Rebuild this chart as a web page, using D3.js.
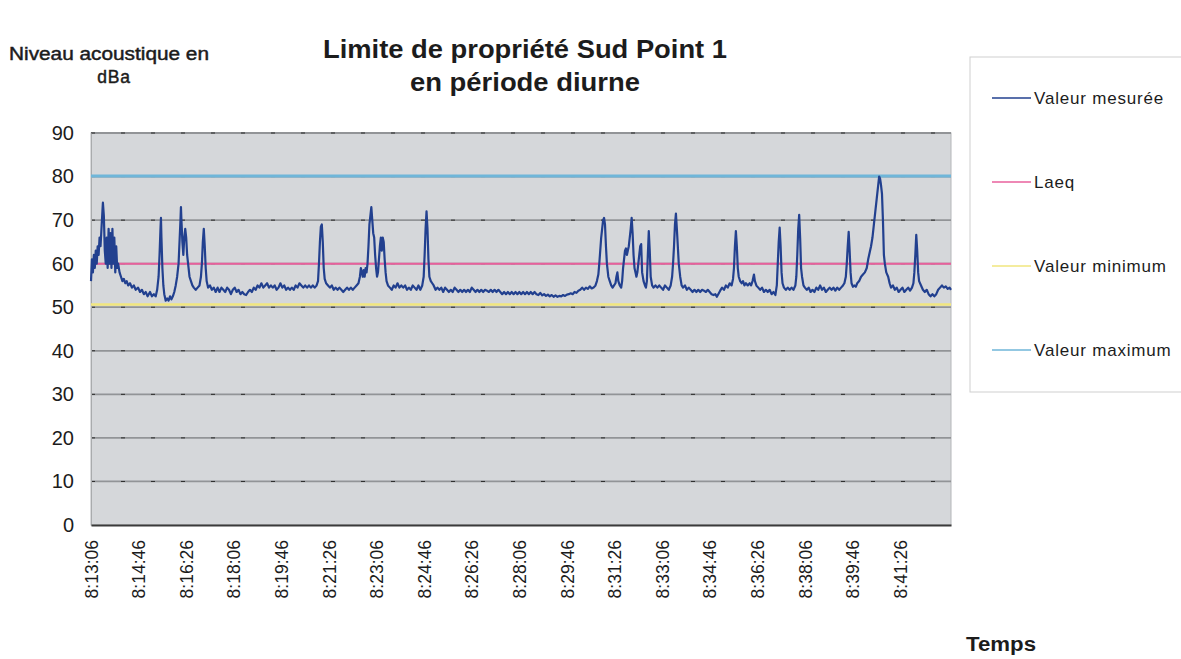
<!DOCTYPE html>
<html>
<head>
<meta charset="utf-8">
<script src="https://cdn.jsdelivr.net/npm/d3@7/dist/d3.min.js"></script>
<style>
  body { margin: 0; background: #fff; }
  text { font-family: "Liberation Sans", Arial, sans-serif; fill: #1c1c1c; }
</style>
</head>
<body>
<div id="chart"></div>
<script>
// x axis labels, one every 100 s starting at 8:13:06
var tickLabels = ["8:13:06", "8:14:46", "8:16:26", "8:18:06", "8:19:46", "8:21:26",
                  "8:23:06", "8:24:46", "8:26:26", "8:28:06", "8:29:46", "8:31:26",
                  "8:33:06", "8:34:46", "8:36:26", "8:38:06", "8:39:46", "8:41:26"];
var tickSeconds = [0, 100, 200, 300, 400, 500, 600, 700, 800, 900, 1000, 1100,
                   1200, 1300, 1400, 1500, 1600, 1700];
var lastSecond = 1807;

var yTicks = [0, 10, 20, 30, 40, 50, 60, 70, 80, 90];

// reference levels (dBa)
var laeq = 60;
var valeurMin = 50.6;
var valeurMax = 80.1;

var legendNames = ["Valeur mesurée", "Laeq", "Valeur minimum", "Valeur maximum"];
var legendColors = ["#22408f", "#e8609c", "#f1e67e", "#6fb6d9"];

var mesure = [
  [0,56],[2,61],[4,58],[6,62],[8,59],[10,63],[12,60],[14,64],[16,62],[18,66],[20,64],[22,68],
  [24,72],[25,74],[27,71],[29,63],[31,60],[33,66],[35,59],[37,68],[39,60],[41,67],[43,59],
  [45,68],[47,60],[49,66],[51,58],[53,64],[55,59],[57,60],[60,58],[63,57],[66,56],[69,56.5],
  [72,55.5],[75,56],[78,55],[82,55.5],[86,54.5],[90,55],[94,54],[99,54.5],[103,53.5],[107,54],
  [111,53],[115,53.5],[119,52.5],[124,53.5],[128,52.5],[132,53],[136,52.5],[139,54],[142,57],
  [144,62],[146,68],[147,70.5],[148,66],[150,59],[152,55],[154,53],[157,51.5],[160,52],
  [163,51.5],[166,52.5],[169,51.8],[172,52.5],[175,53.5],[178,55],[181,57],[184,60],[186,65],
  [188,70],[189,73],[190,70],[192,65],[194,62],[196,66],[198,68],[200,66],[202,62],[204,60],
  [207,57],[210,56],[213,55],[216,54.5],[220,54],[224,54.5],[228,55],[231,57],[233,60],
  [235,65],[237,68],[239,64],[241,59],[243,56],[246,54.5],[250,55],[254,54],[258,54.5],
  [262,53.5],[266,54.5],[270,53.5],[274,54.5],[278,54],[282,53.5],[286,54.5],[290,54],
  [294,53],[298,54],[302,54.5],[306,53.5],[310,54],[314,53],[318,53.5],[322,53],[326,52.8],
  [330,53.5],[334,54],[338,53.5],[342,54.5],[346,54],[350,55],[354,54.5],[358,55.5],[362,54.5],
  [366,55],[370,55.5],[374,54.5],[378,55],[382,54.5],[386,55],[390,54],[394,54.5],[398,55.5],
  [402,54.5],[406,55],[410,54],[414,54.5],[418,54],[422,54.5],[426,54],[430,55],[434,54.5],
  [438,55.5],[442,55],[446,54.5],[450,55],[454,54.5],[458,55],[462,54.5],[466,55],[470,54.5],
  [474,55],[477,56],[479,60],[481,65],[483,68.5],[485,69],[487,65],[489,59],[491,56.5],
  [494,55.5],[498,55],[502,54.5],[506,55],[510,54],[514,54.5],[518,54],[522,54.5],[526,54],
  [530,53.5],[534,54],[538,54.5],[542,54],[546,54.5],[550,54],[554,54.5],[558,55],[562,55.5],
  [565,57],[567,59],[569,58],[571,57],[573,58.5],[575,57],[577,59],[579,58],[581,60],[583,64],
  [585,69],[587,71],[589,73],[591,70],[593,67],[595,66],[597,62],[599,59],[601,57],[603,58],
  [605,61],[607,64],[609,66],[611,63],[613,66],[615,65],[617,61],[619,58],[621,56],[624,55],
  [628,54.5],[632,54],[636,55],[640,54.5],[644,55.5],[648,54.5],[652,55],[656,54.5],[660,55],
  [664,54],[668,54.5],[672,54],[676,55],[680,54.5],[684,54],[688,55],[692,54],[696,55],
  [699,57],[701,62],[703,68],[705,72],[707,68],[709,61],[711,57],[714,56],[717,55.5],[720,55],
  [724,54],[728,54.5],[732,54],[736,54.5],[740,53.5],[744,54.5],[748,54],[752,53.5],[756,54],
  [760,53.5],[764,54.5],[768,54],[772,53.5],[776,54],[780,53.5],[784,54],[788,53.5],[792,54],
  [796,53.5],[800,54.5],[804,54],[808,53.5],[812,54],[816,53.5],[820,54],[824,53.5],[828,54],
  [832,53.8],[836,53.5],[840,54],[844,53.5],[848,54],[852,53.5],[856,54],[860,53.5],[864,53],
  [868,53.5],[872,53],[876,53.5],[880,53],[884,53.5],[888,53],[892,53.5],[896,53],[900,53.5],
  [904,53],[908,53.5],[912,53],[916,53.5],[920,53],[924,53.5],[928,53],[932,53.5],[936,53],
  [940,52.8],[944,53.3],[948,52.7],[952,53],[956,52.6],[960,52.9],[964,52.5],[968,52.8],
  [972,52.4],[976,52.7],[980,52.4],[984,52.6],[988,52.5],[992,52.8],[996,52.6],[1000,52.9],
  [1004,53],[1008,53.2],[1012,53],[1016,53.5],[1020,53.3],[1024,53.8],[1028,54],[1032,54.5],
  [1036,54],[1040,54.5],[1044,54.2],[1048,54.8],[1052,54.3],[1056,54.5],[1060,55],[1063,56],
  [1066,57.5],[1068,60],[1070,63],[1072,66],[1074,68],[1076,70],[1078,70.5],[1080,69],
  [1082,64],[1084,60],[1087,57],[1090,56],[1093,55],[1096,54.5],[1099,55],[1102,55.5],
  [1104,57],[1106,58],[1108,56],[1111,55],[1114,54.5],[1116,56],[1118,59],[1120,61],[1122,63],
  [1124,63.5],[1126,62],[1128,63],[1130,64],[1132,66],[1134,68],[1136,70.5],[1138,67],
  [1140,62],[1142,59],[1144,58],[1146,57],[1148,58],[1150,60],[1152,62],[1154,64],[1156,64.5],
  [1158,58],[1161,56],[1164,55],[1166,54.5],[1168,56],[1170,62],[1172,67.5],[1174,63],
  [1176,57],[1179,55],[1182,54.5],[1186,55],[1190,54.5],[1194,55],[1198,54.5],[1202,54],
  [1206,55],[1210,54.5],[1214,54],[1218,55],[1221,57],[1223,60],[1225,64],[1227,69],
  [1229,71.5],[1231,68],[1233,64],[1235,60],[1238,57],[1241,55],[1244,54.5],[1248,55],
  [1252,54],[1256,54.5],[1260,54],[1264,53.5],[1268,54],[1272,53.5],[1276,54],[1280,53.5],
  [1284,54],[1288,53.8],[1292,53.5],[1296,54],[1300,53.5],[1304,53],[1308,52.8],[1312,53],
  [1315,52.4],[1318,53],[1322,53.8],[1326,54.5],[1330,54],[1334,55],[1338,54.5],[1342,55.5],
  [1346,55],[1349,56.5],[1351,59],[1353,64],[1355,67.5],[1357,64],[1359,59],[1361,57],
  [1364,56],[1367,55.5],[1370,56],[1373,55],[1376,55.5],[1380,55],[1384,55.5],[1387,55],
  [1390,56],[1393,57.5],[1395,56],[1398,55],[1402,54.5],[1406,54],[1410,54.5],[1414,53.5],
  [1418,54],[1422,53.5],[1426,54],[1430,53],[1434,53.5],[1438,52.8],[1441,55],[1443,60],
  [1445,65],[1447,68.3],[1449,64],[1451,58],[1453,55.5],[1456,54.5],[1460,54],[1464,54.5],
  [1468,54],[1472,54.5],[1476,54],[1480,55],[1482,57],[1484,62],[1486,68],[1488,71.2],
  [1490,66],[1492,59],[1494,57],[1497,55],[1500,54.5],[1504,54],[1508,54.5],[1512,53.5],
  [1516,54],[1520,53.5],[1524,54.5],[1528,54],[1532,55],[1536,54],[1540,54.5],[1544,53.5],
  [1548,54],[1552,54.5],[1556,54],[1560,54.5],[1564,53.8],[1568,54.5],[1572,54],[1576,54.5],
  [1580,55],[1583,55.5],[1586,57],[1588,60],[1590,64],[1592,67.3],[1594,63],[1596,58],
  [1598,55.5],[1601,54.7],[1604,55],[1607,54.7],[1610,55.5],[1614,56],[1618,57],[1622,57.5],
  [1626,58],[1630,59],[1633,61],[1636,62.5],[1639,64],[1642,66],[1645,69],[1648,72],[1651,75],
  [1654,78],[1656,80],[1658,79.5],[1660,78],[1662,76],[1664,70],[1666,62],[1668,60],[1671,58],
  [1675,57],[1678,55.5],[1681,54.5],[1685,55],[1689,54],[1693,54.5],[1697,53.5],[1701,54],
  [1705,54.5],[1709,53.5],[1713,54],[1717,54.5],[1721,53.8],[1725,54.5],[1728,55.5],[1730,58],
  [1732,62],[1734,66.6],[1736,63],[1738,58],[1740,56],[1744,55],[1748,54],[1752,53.5],
  [1756,54],[1760,53],[1764,52.5],[1768,53],[1772,52.5],[1776,53],[1780,54],[1784,54.5],
  [1788,55],[1792,54.5],[1796,54.8],[1800,54.2],[1804,54.5],[1807,54]
];

var width = 1181, height = 659;
var plot = {left: 91, right: 951, top: 133, bottom: 525};

var svg = d3.select("#chart").append("svg")
    .attr("width", width)
    .attr("height", height);

var x = d3.scaleLinear()
    .domain([0, lastSecond])
    .range([plot.left, plot.right]);

var y = d3.scaleLinear()
    .domain([0, 90])
    .range([plot.bottom, plot.top]);

// grey plot background
svg.append("rect")
    .attr("x", plot.left)
    .attr("y", plot.top)
    .attr("width", plot.right - plot.left)
    .attr("height", plot.bottom - plot.top)
    .attr("fill", "#d5d7da")
    .attr("stroke", "#b4b6b9")
    .attr("stroke-width", 1);

// horizontal gridlines (grey with a few dark dashes, like the scan)
var gridValues = yTicks.filter(function(d) { return d > 0; });
var grid = svg.append("g").attr("class", "grid");
grid.selectAll("line.g1")
    .data(gridValues)
  .enter().append("line")
    .attr("class", "g1")
    .attr("x1", plot.left).attr("x2", plot.right)
    .attr("y1", function(d) { return y(d); })
    .attr("y2", function(d) { return y(d); })
    .attr("stroke", "#929497")
    .attr("stroke-width", 1.8);
grid.selectAll("line.g2")
    .data(gridValues)
  .enter().append("line")
    .attr("class", "g2")
    .attr("x1", plot.left).attr("x2", plot.right)
    .attr("y1", function(d) { return y(d); })
    .attr("y2", function(d) { return y(d); })
    .attr("stroke", "#2a2a2a")
    .attr("stroke-width", 1)
    .attr("stroke-dasharray", "4,26");

// y axis labels
var yAxis = svg.append("g")
    .attr("transform", "translate(" + plot.left + ",0)")
    .call(d3.axisLeft(y).tickValues(yTicks).tickSize(0).tickPadding(17));
yAxis.select(".domain").attr("stroke", "#a9abad");
yAxis.selectAll("text")
    .style("font-size", "20px")
    .style("fill", "#1c1c1c");

// x axis with rotated time labels
var xAxis = svg.append("g")
    .attr("transform", "translate(0," + plot.bottom + ")")
    .call(d3.axisBottom(x).tickValues(tickSeconds).tickSize(0)
          .tickFormat(function(d, i) { return tickLabels[i]; }));
xAxis.select(".domain").attr("stroke", "#3a3a3a").attr("stroke-width", 1.8);
xAxis.selectAll("text")
    .style("font-size", "17.5px")
    .style("fill", "#1c1c1c")
    .attr("text-anchor", "end")
    .attr("transform", "translate(0,15) rotate(-90)")
    .attr("x", 0)
    .attr("y", 0)
    .attr("dy", "0.35em");

// reference lines
function hline(value, color, w) {
  svg.append("line")
      .attr("x1", plot.left).attr("x2", plot.right)
      .attr("y1", y(value)).attr("y2", y(value))
      .attr("stroke", color)
      .attr("stroke-width", w);
}
hline(valeurMin, legendColors[2], 2.5);
hline(laeq, legendColors[1], 2);
hline(valeurMax, legendColors[3], 3);

// measured level
var line = d3.line()
    .x(function(d) { return x(d[0]); })
    .y(function(d) { return y(d[1]); });

svg.append("path")
    .datum(mesure)
    .attr("fill", "none")
    .attr("stroke", legendColors[0])
    .attr("stroke-width", 2.2)
    .attr("stroke-linejoin", "round")
    .attr("d", line);

// titles
svg.append("text")
    .attr("x", 525).attr("y", 58)
    .attr("text-anchor", "middle")
    .attr("textLength", 404)
    .attr("lengthAdjust", "spacingAndGlyphs")
    .style("font-size", "25px")
    .style("font-weight", "bold")
    .text("Limite de propriété Sud Point 1");
svg.append("text")
    .attr("x", 525).attr("y", 91)
    .attr("text-anchor", "middle")
    .attr("textLength", 230)
    .attr("lengthAdjust", "spacingAndGlyphs")
    .style("font-size", "25px")
    .style("font-weight", "bold")
    .text("en période diurne");

// y axis title, semi-heavy like the scan
svg.append("text")
    .attr("x", 9).attr("y", 60)
    .attr("textLength", 200)
    .attr("lengthAdjust", "spacingAndGlyphs")
    .style("font-size", "17.5px")
    .style("stroke", "#1c1c1c")
    .style("stroke-width", 0.45)
    .text("Niveau acoustique en");
svg.append("text")
    .attr("x", 114).attr("y", 83)
    .attr("text-anchor", "middle")
    .style("font-size", "17.5px")
    .style("stroke", "#1c1c1c")
    .style("stroke-width", 0.45)
    .style("letter-spacing", "0.8px")
    .text("dBa");

svg.append("text")
    .attr("x", 966).attr("y", 651)
    .attr("textLength", 70)
    .attr("lengthAdjust", "spacingAndGlyphs")
    .style("font-size", "20px")
    .style("font-weight", "bold")
    .text("Temps");

// legend
svg.append("rect")
    .attr("x", 970).attr("y", 57)
    .attr("width", 240).attr("height", 335)
    .attr("fill", "#fff")
    .attr("stroke", "#cfcfcf")
    .attr("stroke-width", 1);

var legend = svg.selectAll("g.legend")
    .data(legendNames)
  .enter().append("g")
    .attr("class", "legend")
    .attr("transform", function(d, i) { return "translate(0," + (98 + i * 84) + ")"; });

legend.append("line")
    .attr("x1", 992).attr("x2", 1031)
    .attr("y1", 0).attr("y2", 0)
    .attr("stroke", function(d, i) { return legendColors[i]; })
    .attr("stroke-width", 1.6);

legend.append("text")
    .attr("x", 1034)
    .attr("dy", "0.35em")
    .style("font-size", "17px")
    .style("letter-spacing", "0.8px")
    .text(function(d) { return d; });
</script>
</body>
</html>
